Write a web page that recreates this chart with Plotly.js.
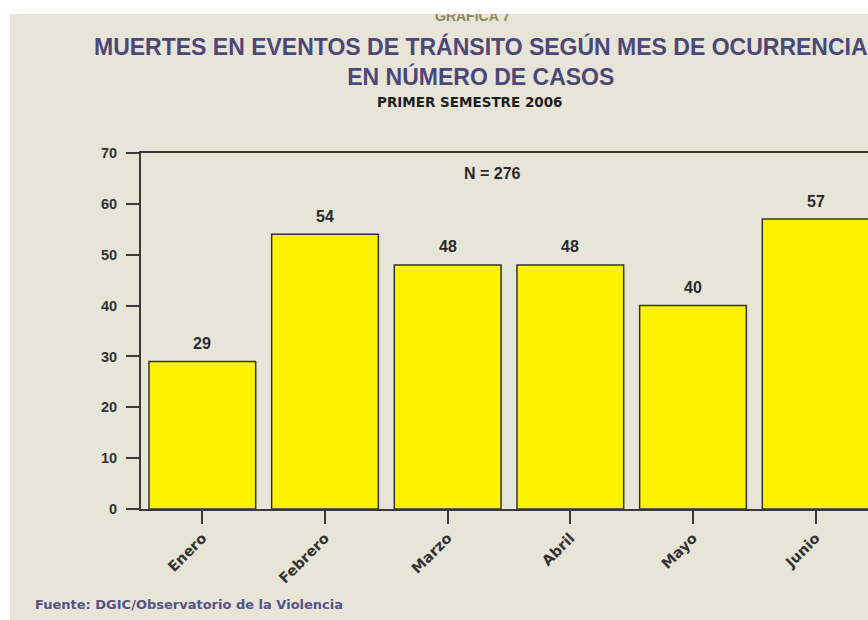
<!DOCTYPE html>
<html>
<head>
<meta charset="utf-8">
<script src="https://cdn.plot.ly/plotly-3.0.1.min.js"></script>
<style>
  html, body { margin: 0; padding: 0; background: #ffffff; overflow: hidden; width: 868px; height: 620px; }
  #chart { position: absolute; left: 10px; top: 14px; width: 880px; height: 606px; }
</style>
</head>
<body>
<div id="chart"></div>
<script>
const months = ["Enero", "Febrero", "Marzo", "Abril", "Mayo", "Junio"];
const deaths = [29, 54, 48, 48, 40, 57];
const yTicks = [0, 10, 20, 30, 40, 50, 60, 70];
const totalLabel = "N = 276";
const kicker = "GRAFICA 7";
const titleText = "MUERTES EN EVENTOS DE TRÁNSITO SEGÚN MES DE OCURRENCIA<br>EN NÚMERO DE CASOS";
const subtitleText = "PRIMER SEMESTRE 2006";
const sourceText = "Fuente: DGIC/Observatorio de la Violencia";

const axisColor = "#3a3a3a";
const bg = "#E7E4D8";

const trace = {
  type: "bar",
  x: months,
  y: deaths,
  marker: { color: "#FFF200", line: { color: "#333333", width: 1.5 } },
  hoverinfo: "x+y"
};

const annotations = months.map((m, i) => ({
  x: m, y: deaths[i], xref: "x", yref: "y",
  text: String(deaths[i]), showarrow: false,
  yanchor: "middle", yshift: 18,
  font: { family: "Liberation Sans, Arial, sans-serif", size: 16, color: "#2b2b2b", weight: "bold" }
}));

annotations.push({
  x: 0.477, y: 66, xref: "paper", yref: "y",
  text: totalLabel, showarrow: false, yanchor: "middle",
  font: { family: "Liberation Sans, Arial, sans-serif", size: 16, color: "#2b2b2b", weight: "bold" }
});
annotations.push({
  x: 0.447, y: 1.143, xref: "paper", yref: "paper",
  text: subtitleText, showarrow: false, yanchor: "middle",
  font: { family: "DejaVu Sans, sans-serif", size: 13.5, color: "#1e1e1e", weight: "bold" }
});
annotations.push({
  x: 0.451, y: 1.357, xref: "paper", yref: "paper",
  text: kicker, showarrow: false, yanchor: "bottom",
  font: { family: "Liberation Sans, Arial, sans-serif", size: 14, color: "#8d8b58", weight: "bold" }
});
annotations.push({
  x: -0.147, y: -0.267, xref: "paper", yref: "paper",
  text: sourceText, showarrow: false, xanchor: "left", yanchor: "middle",
  font: { family: "DejaVu Sans, sans-serif", size: 13, color: "#55538a", weight: "bold" }
});

const layout = {
  width: 880, height: 606,
  margin: { l: 131, r: 13, t: 139, b: 111, pad: 0 },
  paper_bgcolor: bg, plot_bgcolor: bg,
  showlegend: false,
  bargap: 0.13,
  title: {
    text: titleText,
    x: 0.535, xanchor: "center", xref: "container",
    y: 0.933, yanchor: "top", yref: "container",
    font: { family: "Liberation Sans, Arial, sans-serif", size: 23, color: "#4b4878", weight: "bold" }
  },
  xaxis: {
    type: "category",
    range: [-0.5, 5.5],
    showline: true, linecolor: axisColor, linewidth: 2, mirror: true,
    ticks: "outside", ticklen: 13, tickwidth: 2, tickcolor: axisColor,
    tickangle: -45,
    tickfont: { family: "DejaVu Sans, sans-serif", size: 14.5, color: "#333333", weight: "bold" },
    showgrid: false, zeroline: false, fixedrange: true
  },
  yaxis: {
    range: [0, 70],
    tickvals: yTicks,
    showline: true, linecolor: axisColor, linewidth: 2, mirror: true,
    ticks: "outside", ticklen: 13, tickwidth: 2, tickcolor: axisColor,
    ticklabelstandoff: 6,
    tickfont: { family: "Liberation Sans, Arial, sans-serif", size: 14.5, color: "#333333", weight: "bold" },
    showgrid: false, zeroline: false, fixedrange: true
  },
  annotations: annotations
};

Plotly.newPlot("chart", [trace], layout, { displayModeBar: false, staticPlot: false });
</script>
</body>
</html>
